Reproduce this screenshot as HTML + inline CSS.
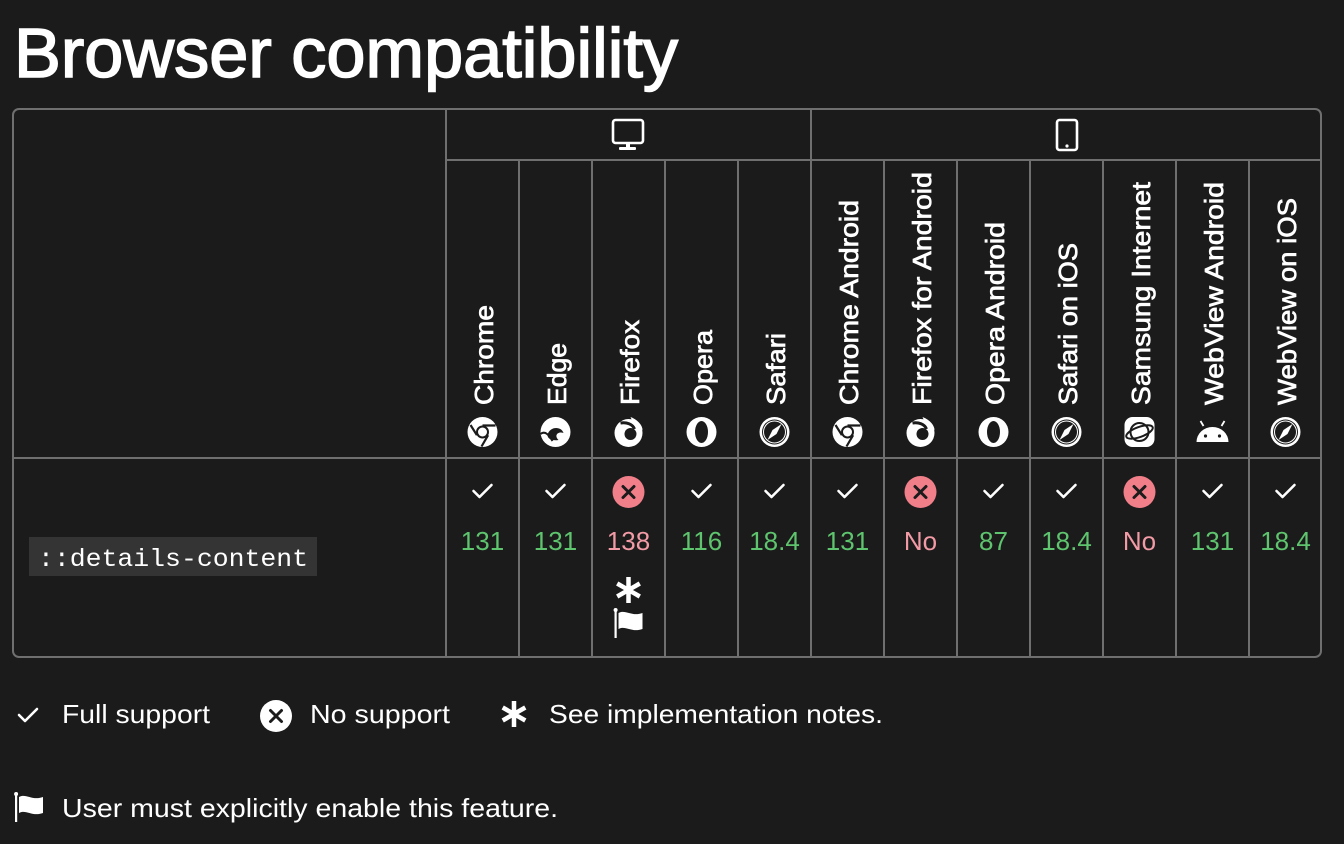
<!DOCTYPE html>
<html><head><meta charset="utf-8"><style>
html,body{margin:0;padding:0;background:#1b1b1b;width:1344px;height:844px;overflow:hidden}
svg{display:block}
text{font-family:"Liberation Sans",sans-serif;fill:#fff}
</style></head><body>
<svg width="1344" height="844" viewBox="0 0 1344 844" xmlns="http://www.w3.org/2000/svg">
<defs>
<g id="chk"><path d="M-9,0 L-3,6 L9,-6" fill="none" stroke="#fff" stroke-width="2.6" stroke-linecap="round" stroke-linejoin="round"/></g>
<g id="xr"><circle r="16" fill="#f07f8a"/><path d="M-5.5,-5.5 L5.5,5.5 M5.5,-5.5 L-5.5,5.5" stroke="#1b1b1b" stroke-width="3" stroke-linecap="round"/></g>
<g id="chrome"><circle r="15" fill="#fff"/><circle r="6.5" fill="#1b1b1b"/><circle r="4.5" fill="#fff"/><path d="M0,-6.5 L13,-6.5 M-5.6,3.2 L-12,-7 M5.6,3.2 L-1,14.5" stroke="#1b1b1b" stroke-width="2.2"/></g>
<g id="edge"><circle r="15" fill="#fff"/><path d="M-8,3 C-6,-6 6,-6 8,1 C3,-1 -2,3 3,8 C-3,9 -8,7 -8,3Z" fill="#1b1b1b"/><path d="M-15,2 C-10,-2 -6,4 -3,9" stroke="#1b1b1b" stroke-width="2" fill="none"/></g>
<g id="firefox"><circle r="14" cy="1" fill="#fff"/><path d="M2,-15 C10,-12 14,-6 14,-2 L6,-6Z" fill="#fff"/><circle cx="2" cy="2" r="6" fill="#1b1b1b"/><path d="M-8,-9 C-2,-10 4,-8 6,-3" stroke="#1b1b1b" stroke-width="3" fill="none"/></g>
<g id="opera"><circle r="15" fill="#fff"/><ellipse rx="6.5" ry="11" fill="#1b1b1b"/></g>
<g id="safari"><circle r="15" fill="#fff"/><circle r="12.5" fill="#1b1b1b"/><circle r="11" fill="none" stroke="#fff" stroke-width="1"/><path d="M7,-8 L2,2 L-7,8 L-2,-2Z" fill="#fff"/></g>
<g id="samsung"><rect x="-15" y="-15" width="30" height="30" rx="8" fill="#fff"/><ellipse rx="9" ry="9" fill="none" stroke="#1b1b1b" stroke-width="2"/><ellipse rx="14" ry="5" transform="rotate(-20)" fill="none" stroke="#1b1b1b" stroke-width="2"/></g>
<g id="android"><path d="M-16,8 A16,15 0 0 1 16,8 Z" fill="#fff"/><path d="M-9,-8 L-12,-13 M9,-8 L12,-13" stroke="#fff" stroke-width="1.8"/><circle cx="-7" cy="2" r="1.6" fill="#1b1b1b"/><circle cx="7" cy="2" r="1.6" fill="#1b1b1b"/></g>
<g id="ast"><path d="M0,-13 V13 M-11.3,-6.5 L11.3,6.5 M11.3,-6.5 L-11.3,6.5" stroke="#fff" stroke-width="4.5"/></g>
<g id="flag"><rect x="-14" y="-11" width="2.2" height="27" fill="#fff"/><circle cx="-12.9" cy="-12" r="2" fill="#fff"/><path d="M-10,-9 C-3,-13 3,-5 14,-9 L14,7 C3,11 -3,3 -10,7Z" fill="#fff"/></g>
</defs>

<text x="14" y="77" font-size="70" style="stroke:#fff;stroke-width:1.6" textLength="664" lengthAdjust="spacingAndGlyphs">Browser compatibility</text>

<g stroke="#6f6f6f" stroke-width="2" fill="none">
<rect x="13" y="109" width="1308" height="548" rx="6"/>
<line x1="446" y1="109" x2="446" y2="657"/>
<line x1="811" y1="109" x2="811" y2="657"/>
<line x1="446" y1="160" x2="1321" y2="160"/>
<line x1="13" y1="458" x2="1321" y2="458"/>
<line x1="519" y1="160" x2="519" y2="657"/>
<line x1="592" y1="160" x2="592" y2="657"/>
<line x1="665" y1="160" x2="665" y2="657"/>
<line x1="738" y1="160" x2="738" y2="657"/>
<line x1="884" y1="160" x2="884" y2="657"/>
<line x1="957" y1="160" x2="957" y2="657"/>
<line x1="1030" y1="160" x2="1030" y2="657"/>
<line x1="1103" y1="160" x2="1103" y2="657"/>
<line x1="1176" y1="160" x2="1176" y2="657"/>
<line x1="1249" y1="160" x2="1249" y2="657"/>
</g>

<rect x="613" y="120" width="30" height="23" rx="2.5" fill="none" stroke="#fff" stroke-width="2.6"/>
<rect x="626" y="143" width="4" height="5" fill="#fff"/><rect x="619" y="147" width="17" height="3" rx="1" fill="#fff"/>
<rect x="1057" y="120" width="20" height="30" rx="2.5" fill="none" stroke="#fff" stroke-width="2.6"/>
<circle cx="1067" cy="146" r="1.6" fill="#fff"/>

<g font-size="26" style="stroke:#fff;stroke-width:0.7">
<text transform="translate(493,405) rotate(-90)" textLength="100" lengthAdjust="spacingAndGlyphs">Chrome</text>
<text transform="translate(566,405) rotate(-90)" textLength="62" lengthAdjust="spacingAndGlyphs">Edge</text>
<text transform="translate(639,405) rotate(-90)" textLength="85" lengthAdjust="spacingAndGlyphs">Firefox</text>
<text transform="translate(712,405) rotate(-90)" textLength="75" lengthAdjust="spacingAndGlyphs">Opera</text>
<text transform="translate(785,405) rotate(-90)" textLength="72" lengthAdjust="spacingAndGlyphs">Safari</text>
<text transform="translate(858,405) rotate(-90)" textLength="205" lengthAdjust="spacingAndGlyphs">Chrome Android</text>
<text transform="translate(931,405) rotate(-90)" textLength="233" lengthAdjust="spacingAndGlyphs">Firefox for Android</text>
<text transform="translate(1004,405) rotate(-90)" textLength="183" lengthAdjust="spacingAndGlyphs">Opera Android</text>
<text transform="translate(1077,405) rotate(-90)" textLength="162" lengthAdjust="spacingAndGlyphs">Safari on iOS</text>
<text transform="translate(1150,405) rotate(-90)" textLength="223" lengthAdjust="spacingAndGlyphs">Samsung Internet</text>
<text transform="translate(1223,405) rotate(-90)" textLength="223" lengthAdjust="spacingAndGlyphs">WebView Android</text>
<text transform="translate(1296,405) rotate(-90)" textLength="207" lengthAdjust="spacingAndGlyphs">WebView on iOS</text>
</g>

<use href="#chrome" x="482.5" y="432"/>
<use href="#edge" x="555.5" y="432"/>
<use href="#firefox" x="628.5" y="432"/>
<use href="#opera" x="701.5" y="432"/>
<use href="#safari" x="774.5" y="432"/>
<use href="#chrome" x="847.5" y="432"/>
<use href="#firefox" x="920.5" y="432"/>
<use href="#opera" x="993.5" y="432"/>
<use href="#safari" x="1066.5" y="432"/>
<use href="#samsung" x="1139.5" y="432"/>
<use href="#android" x="1212.5" y="434"/>
<use href="#safari" x="1285.5" y="432"/>

<rect x="29" y="537" width="288" height="39" fill="#343434"/>
<text x="38" y="566" font-size="25" textLength="270" lengthAdjust="spacingAndGlyphs" style="font-family:'Liberation Mono',monospace">::details-content</text>

<use href="#chk" x="482.5" y="491"/>
<use href="#chk" x="555.5" y="491"/>
<use href="#xr" x="628.5" y="492"/>
<use href="#chk" x="701.5" y="491"/>
<use href="#chk" x="774.5" y="491"/>
<use href="#chk" x="847.5" y="491"/>
<use href="#xr" x="920.5" y="492"/>
<use href="#chk" x="993.5" y="491"/>
<use href="#chk" x="1066.5" y="491"/>
<use href="#xr" x="1139.5" y="492"/>
<use href="#chk" x="1212.5" y="491"/>
<use href="#chk" x="1285.5" y="491"/>

<g font-size="26" text-anchor="middle">
<text x="482.5" y="550" style="fill:#5ec46e">131</text>
<text x="555.5" y="550" style="fill:#5ec46e">131</text>
<text x="628.5" y="550" style="fill:#f29aa5">138</text>
<text x="701.5" y="550" style="fill:#5ec46e">116</text>
<text x="774.5" y="550" style="fill:#5ec46e">18.4</text>
<text x="847.5" y="550" style="fill:#5ec46e">131</text>
<text x="920.5" y="550" style="fill:#f29aa5">No</text>
<text x="993.5" y="550" style="fill:#5ec46e">87</text>
<text x="1066.5" y="550" style="fill:#5ec46e">18.4</text>
<text x="1139.5" y="550" style="fill:#f29aa5">No</text>
<text x="1212.5" y="550" style="fill:#5ec46e">131</text>
<text x="1285.5" y="550" style="fill:#5ec46e">18.4</text>
</g>
<use href="#ast" x="628.5" y="590"/>
<use href="#flag" x="628.5" y="622"/>

<use href="#chk" x="28" y="715"/>
<text x="62" y="723" font-size="26" textLength="148" lengthAdjust="spacingAndGlyphs">Full support</text>
<circle cx="276" cy="716" r="16" fill="#fff"/>
<path d="M270.5,710.5 L281.5,721.5 M281.5,710.5 L270.5,721.5" stroke="#1b1b1b" stroke-width="3" stroke-linecap="round"/>
<text x="310" y="723" font-size="26" textLength="140" lengthAdjust="spacingAndGlyphs">No support</text>
<use href="#ast" x="514" y="714"/>
<text x="549" y="723" font-size="26" textLength="334" lengthAdjust="spacingAndGlyphs">See implementation notes.</text>
<use href="#flag" x="29" y="806"/>
<text x="62" y="817" font-size="26" textLength="496" lengthAdjust="spacingAndGlyphs">User must explicitly enable this feature.</text>
</svg>
</body></html>
